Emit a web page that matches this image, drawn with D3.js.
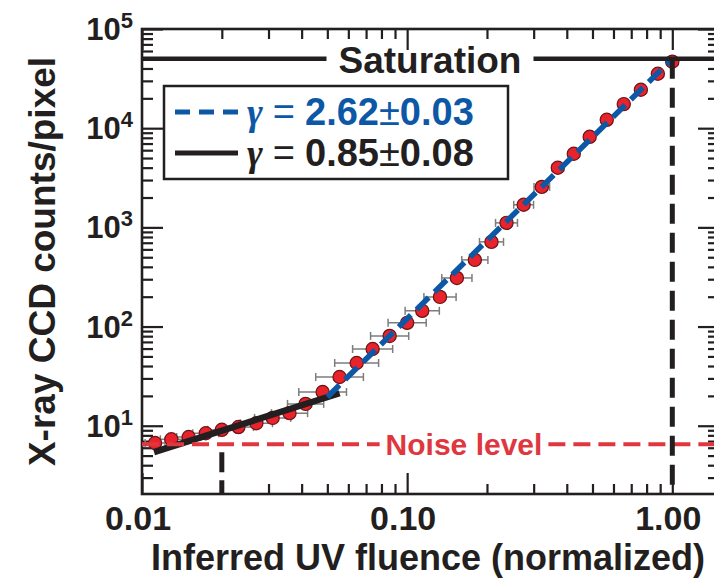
<!DOCTYPE html>
<html>
<head>
<meta charset="utf-8">
<script src="https://cdn.jsdelivr.net/npm/d3@7"></script>
<style>
  html, body { margin: 0; padding: 0; background: #fff; }
  svg { display: block; font-family: "Liberation Sans", Arial, Helvetica, sans-serif; font-weight: bold; }
</style>
</head>
<body>
<svg id="chart" width="714" height="581"></svg>
<script>
// measured points (normalized UV fluence vs CCD counts)
const fluence = [0.0112, 0.0129, 0.0150, 0.0174, 0.0200, 0.0231, 0.0270, 0.0311,
  0.0360, 0.0414, 0.0480, 0.0556, 0.0645, 0.0741, 0.0859, 0.100,
  0.114, 0.133, 0.154, 0.180, 0.208, 0.237, 0.275, 0.322,
  0.370, 0.425, 0.488, 0.566, 0.656, 0.761, 0.882, 1.00];
const counts = [6.7, 7.3, 7.7, 8.4, 9.1, 9.7, 10.6, 12.0,
  13.4, 16.6, 21.9, 31.0, 42.9, 59.4, 80.4, 109,
  144, 199, 309, 470, 714, 1110, 1690, 2560,
  3990, 5520, 8190, 12150, 17500, 24400, 35400, 46800];
// relative horizontal error of each fluence value
const fluenceErr = [0.09, 0.10, 0.11, 0.12, 0.13, 0.14, 0.15, 0.17,
  0.17, 0.17, 0.23, 0.23, 0.21, 0.19, 0.18, 0.18,
  0.16, 0.15, 0.14, 0.12, 0.11, 0.10, 0.09, 0.07,
  0.05, 0.04, 0.03, 0.02, 0.02, 0.02, 0.02, 0.02];

// power law fits
const steepGamma = 2.62, steepAmp = 5e4, steepRange = [0.05, 1.0];
const shallowGamma = 0.85, shallowAmp = 248, shallowRange = [0.0111, 0.0556];

const saturation = 5e4;
const noiseLevel = 6.5;
const markerFluence = [0.02, 1.0];

const xMajor = [0.01, 0.1, 1];
const xMajorLabels = ['0.01', '0.10', '1.00'];
const yMajor = [10, 100, 1000, 10000, 100000];
const yMajorExp = ['1', '2', '3', '4', '5'];

const plotLeft = 142, plotRight = 719, plotTop = 29, plotBottom = 494;
const black = '#231f20', blue = '#0d58a6', red = '#e0373f';

const svg = d3.select('#chart');

const x = d3.scaleLog().domain([0.01, 1.5]).range([plotLeft, plotRight]);
const y = d3.scaleLog().domain([2.05, 1e5]).range([plotBottom, plotTop]);

const minorOf = (scale) => {
  const [a, b] = scale.domain();
  const out = [];
  for (let e = Math.floor(Math.log10(a)); e <= Math.ceil(Math.log10(b)); e++) {
    for (let k = 2; k <= 9; k++) {
      const v = k * Math.pow(10, e);
      if (v > a && v < b) out.push(v);
    }
  }
  return out;
};
const xMinor = minorOf(x), yMinor = minorOf(y);

// AXES (ticks inward on all four sides)
const axes = svg.append('g');
const addAxis = (axisFn, scale, values, size, transform) => {
  const g = axes.append('g')
    .attr('transform', transform)
    .call(axisFn(scale).tickValues(values).tickSize(size).tickFormat(''));
  g.select('.domain').remove();
  g.selectAll('.tick line').attr('stroke', black).attr('stroke-width', 2.2);
};
addAxis(d3.axisBottom, x, xMinor, -10, `translate(0,${plotBottom})`);
addAxis(d3.axisBottom, x, xMajor, -21, `translate(0,${plotBottom})`);
addAxis(d3.axisTop, x, xMinor, -10, `translate(0,${plotTop})`);
addAxis(d3.axisTop, x, xMajor, -21, `translate(0,${plotTop})`);
addAxis(d3.axisLeft, y, yMinor, -11, `translate(${plotLeft},0)`);
addAxis(d3.axisLeft, y, yMajor, -21, `translate(${plotLeft},0)`);
addAxis(d3.axisRight, y, yMinor, -11, `translate(${plotRight},0)`);
addAxis(d3.axisRight, y, yMajor, -21, `translate(${plotRight},0)`);
axes.append('rect')
  .attr('x', plotLeft).attr('y', plotTop)
  .attr('width', plotRight - plotLeft).attr('height', plotBottom - plotTop)
  .attr('fill', 'none').attr('stroke', black).attr('stroke-width', 2.6);

// tick labels
svg.append('g').selectAll('text').data(xMajor).join('text')
  .attr('x', d => x(d) - 4)
  .attr('y', 530)
  .attr('text-anchor', 'middle')
  .attr('font-size', 34)
  .attr('fill', black)
  .text((d, i) => xMajorLabels[i]);

const yLab = svg.append('g').selectAll('text').data(yMajor).join('text')
  .attr('x', 133)
  .attr('y', d => y(d) + 11)
  .attr('text-anchor', 'end')
  .attr('font-size', 31)
  .attr('fill', black);
yLab.append('tspan').text('10');
yLab.append('tspan').attr('font-size', 22).attr('dy', -12).text((d, i) => yMajorExp[i]);

// axis titles
svg.append('text')
  .attr('x', 428).attr('y', 570)
  .attr('text-anchor', 'middle')
  .attr('font-size', 36)
  .attr('fill', black)
  .text('Inferred UV fluence (normalized)');
svg.append('text')
  .attr('transform', `translate(55,${(plotTop + plotBottom) / 2}) rotate(-90)`)
  .attr('text-anchor', 'middle')
  .attr('font-size', 37)
  .attr('fill', black)
  .text('X-ray CCD counts/pixel');

// ERROR BARS
const pts = fluence.map((f, i) => ({ f, c: counts[i], e: fluenceErr[i] }));
const bars = svg.append('g').attr('stroke', '#7d7d7d').attr('stroke-width', 1.5);
pts.forEach(p => {
  const x0 = x(p.f / (1 + p.e)), x1 = x(p.f * (1 + p.e)), yy = y(p.c);
  bars.append('line').attr('x1', x0).attr('x2', x1).attr('y1', yy).attr('y2', yy);
  [x0, x1].forEach(xx => bars.append('line')
    .attr('x1', xx).attr('x2', xx).attr('y1', yy - 4).attr('y2', yy + 4));
});

// POINTS
svg.append('g').selectAll('circle').data(pts).join('circle')
  .attr('cx', d => x(d.f))
  .attr('cy', d => y(d.c))
  .attr('r', 6.6)
  .attr('fill', '#e8232b')
  .attr('stroke', '#6b1416')
  .attr('stroke-width', 1.2);

// FIT LINES
const line = d3.line().x(d => x(d[0])).y(d => y(d[1]));
const powerLaw = (amp, g, range) => range.map(v => [v, amp * Math.pow(v, g)]);
svg.append('path')
  .attr('d', line(powerLaw(shallowAmp, shallowGamma, shallowRange)))
  .attr('stroke', black).attr('stroke-width', 6.5).attr('fill', 'none');
svg.append('path')
  .attr('d', line(powerLaw(steepAmp, steepGamma, steepRange)))
  .attr('stroke', blue).attr('stroke-width', 5.5)
  .attr('stroke-dasharray', '17,8').attr('fill', 'none');

// SATURATION
const satText = svg.append('text')
  .attr('x', 430).attr('y', y(saturation) + 14)
  .attr('text-anchor', 'middle')
  .attr('font-size', 37)
  .attr('fill', black)
  .text('Saturation');
const sb = satText.node().getBBox();
[[plotLeft, sb.x - 12], [sb.x + sb.width + 12, plotRight]].forEach(([a, b]) => {
  svg.append('line')
    .attr('x1', a).attr('x2', b)
    .attr('y1', y(saturation)).attr('y2', y(saturation))
    .attr('stroke', black).attr('stroke-width', 4.5);
});

// NOISE LEVEL
const noiseText = svg.append('text')
  .attr('x', 464).attr('y', y(noiseLevel) + 11)
  .attr('text-anchor', 'middle')
  .attr('font-size', 30)
  .attr('fill', red)
  .text('Noise level');
const nb = noiseText.node().getBBox();
[[plotLeft, nb.x - 6], [nb.x + nb.width + 6, 714]].forEach(([a, b]) => {
  svg.append('line')
    .attr('x1', a).attr('x2', b)
    .attr('y1', y(noiseLevel)).attr('y2', y(noiseLevel))
    .attr('stroke', red).attr('stroke-width', 4)
    .attr('stroke-dasharray', '17,8');
});

// VERTICAL MARKERS
svg.append('line')
  .attr('x1', x(markerFluence[0])).attr('x2', x(markerFluence[0]))
  .attr('y1', y(noiseLevel)).attr('y2', plotBottom)
  .attr('stroke', black).attr('stroke-width', 5)
  .attr('stroke-dasharray', '20,8').attr('stroke-dashoffset', 20);
svg.append('line')
  .attr('x1', x(markerFluence[1])).attr('x2', x(markerFluence[1]))
  .attr('y1', y(saturation)).attr('y2', plotBottom)
  .attr('stroke', black).attr('stroke-width', 5)
  .attr('stroke-dasharray', '20,9');

// LEGEND
const lg = svg.append('g');
lg.append('rect')
  .attr('x', 164).attr('y', 86).attr('width', 344).attr('height', 93)
  .attr('fill', '#fff').attr('stroke', black).attr('stroke-width', 2.5);
const legendRows = [
  { gamma: steepGamma, err: '0.03', color: blue, dash: '15,9', yy: 112 },
  { gamma: shallowGamma, err: '0.08', color: black, dash: null, yy: 153 }
];
legendRows.forEach(r => {
  lg.append('line')
    .attr('x1', 175).attr('x2', 238).attr('y1', r.yy).attr('y2', r.yy)
    .attr('stroke', r.color).attr('stroke-width', 5)
    .attr('stroke-dasharray', r.dash);
  const t = lg.append('text')
    .attr('x', 247).attr('y', r.yy + 13)
    .attr('font-size', 38)
    .attr('fill', r.color);
  t.append('tspan')
    .attr('font-family', '"Liberation Serif", "DejaVu Serif", serif')
    .attr('font-style', 'italic')
    .attr('font-size', 38)
    .text('γ');
  t.append('tspan').attr('font-weight', 'normal').attr('dx', 10).text('=');
  t.append('tspan').attr('dx', 10).text(r.gamma.toFixed(2));
  t.append('tspan').attr('font-weight', 'normal').text('±');
  t.append('tspan').text(r.err);
});
</script>
</body>
</html>
